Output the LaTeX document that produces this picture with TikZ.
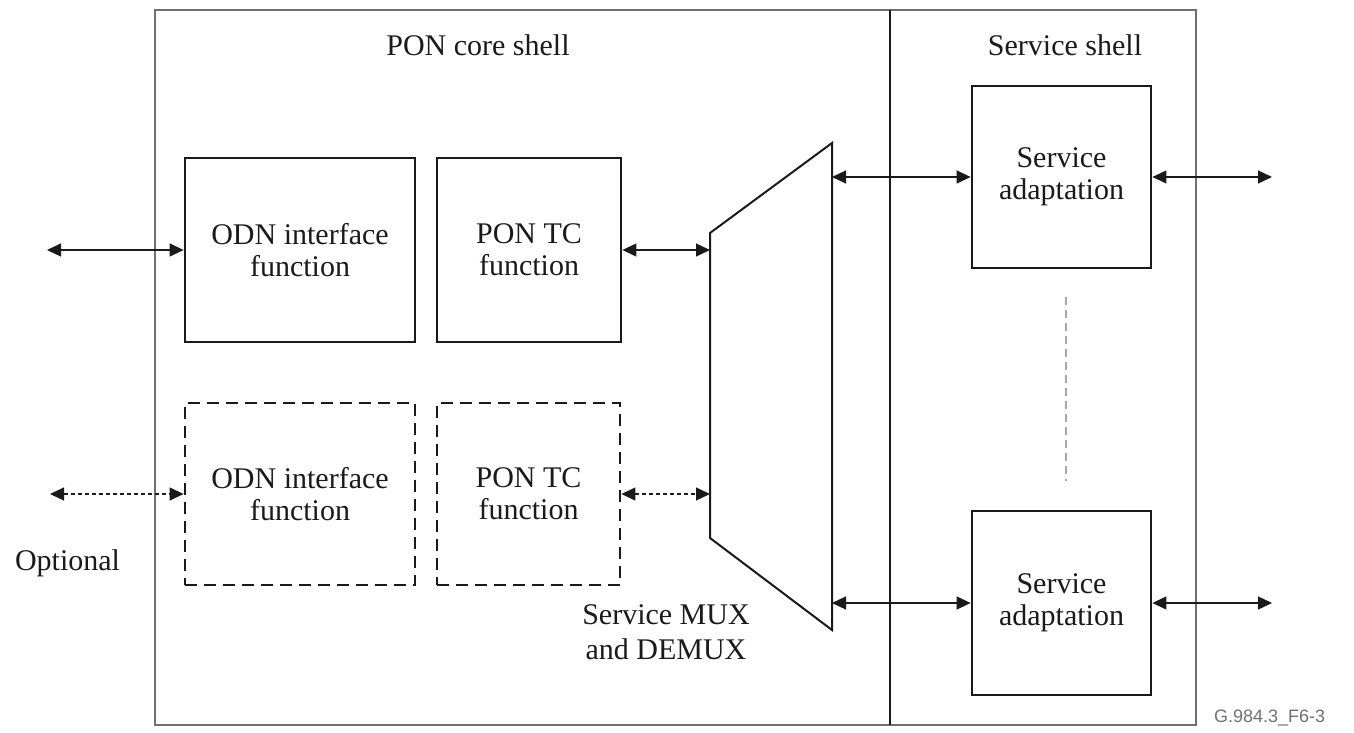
\documentclass[tikz,border=0pt]{standalone}
\usepackage{fontspec}
\setmainfont{Liberation Serif}
\newfontfamily\labelsans{Liberation Sans}
\usetikzlibrary{arrows.meta}
\definecolor{ink}{HTML}{1A1A1A}
\definecolor{framegray}{HTML}{707070}
\tikzset{
  blockbox/.style={draw=ink, line width=1.4pt, align=center, font=\fontsize{15}{16}\selectfont, text=ink, inner sep=0pt},
  optbox/.style={blockbox, dash pattern=on 6pt off 3.5pt},
  link/.style={draw=ink, line width=0.6pt, {Triangle[length=7pt,width=6.5pt]}-{Triangle[length=7pt,width=6.5pt]}},
  optlink/.style={link, dash pattern=on 2pt off 1.5pt},
  caption/.style={font=\fontsize{15}{17.5}\selectfont, text=ink, align=center},
}
\begin{document}
\begin{tikzpicture}[x=0.5pt,y=-0.5pt]
\useasboundingbox (0,0) rectangle (1354,733);
% frame
\draw[framegray, line width=0.7pt] (155,10) rectangle (1196,725);
\draw[ink, line width=0.8pt] (890,10) -- (890,725);
\node[caption] (coretitle) at (478,45) {PON core shell};
\node[caption] (svctitle) at (1065,45) {Service shell};
% blocks
\node[blockbox, minimum width=115pt, minimum height=92pt] (odn) at (300,250) {ODN interface\\function};
\node[blockbox, minimum width=92pt, minimum height=92pt] (tc) at (529,250) {PON TC\\function};
\node[optbox, minimum width=115pt, minimum height=91pt] (odn2) at (300,494) {ODN interface\\function};
\node[optbox, minimum width=91.5pt, minimum height=91pt] (tc2) at (528.5,494) {PON TC\\function};
\node[blockbox, minimum width=89.5pt, minimum height=91pt] (sa1) at (1061.5,177) {Service\\adaptation};
\node[blockbox, minimum width=89.5pt, minimum height=92pt] (sa2) at (1061.5,603) {Service\\adaptation};
% mux
\draw[ink, line width=1pt, line join=miter] (710,233) -- (832,143) -- (832,630) -- (710,538) -- cycle;
\coordinate (muxl1) at (710,250);
\coordinate (muxl2) at (710,494);
\coordinate (muxr1) at (832,177);
\coordinate (muxr2) at (832,603);
\node[caption, anchor=north] (muxlabel) at (666,598) {Service MUX\\and DEMUX};
% free ends
\coordinate (in1) at (47,250);
\coordinate (in2) at (50,494);
\coordinate (out1) at (1272,177);
\coordinate (out2) at (1272,603);
\node[caption, anchor=west] (optional) at (8,563) {Optional};
% connectors
\draw[link] (in1) -- (odn.west);
\draw[optlink] (in2) -- (odn2.west);
\draw[link] (tc.east) -- (muxl1);
\draw[optlink] (tc2.east) -- (muxl2);
\draw[link] (muxr1) -- (sa1.west);
\draw[link] (muxr2) -- (sa2.west);
\draw[link] (sa1.east) -- (out1);
\draw[link] (sa2.east) -- (out2);
\coordinate (dtop) at (1066,297);
\coordinate (dbot) at (1066,481);
\draw[framegray!60, line width=1pt, dash pattern=on 4pt off 2.5pt] (dtop) -- (dbot);
\node[font=\labelsans\fontsize{9}{10}\selectfont, text=framegray, anchor=west] (figid) at (1207,718) {G.984.3\_F6-3};
\end{tikzpicture}
\end{document}
